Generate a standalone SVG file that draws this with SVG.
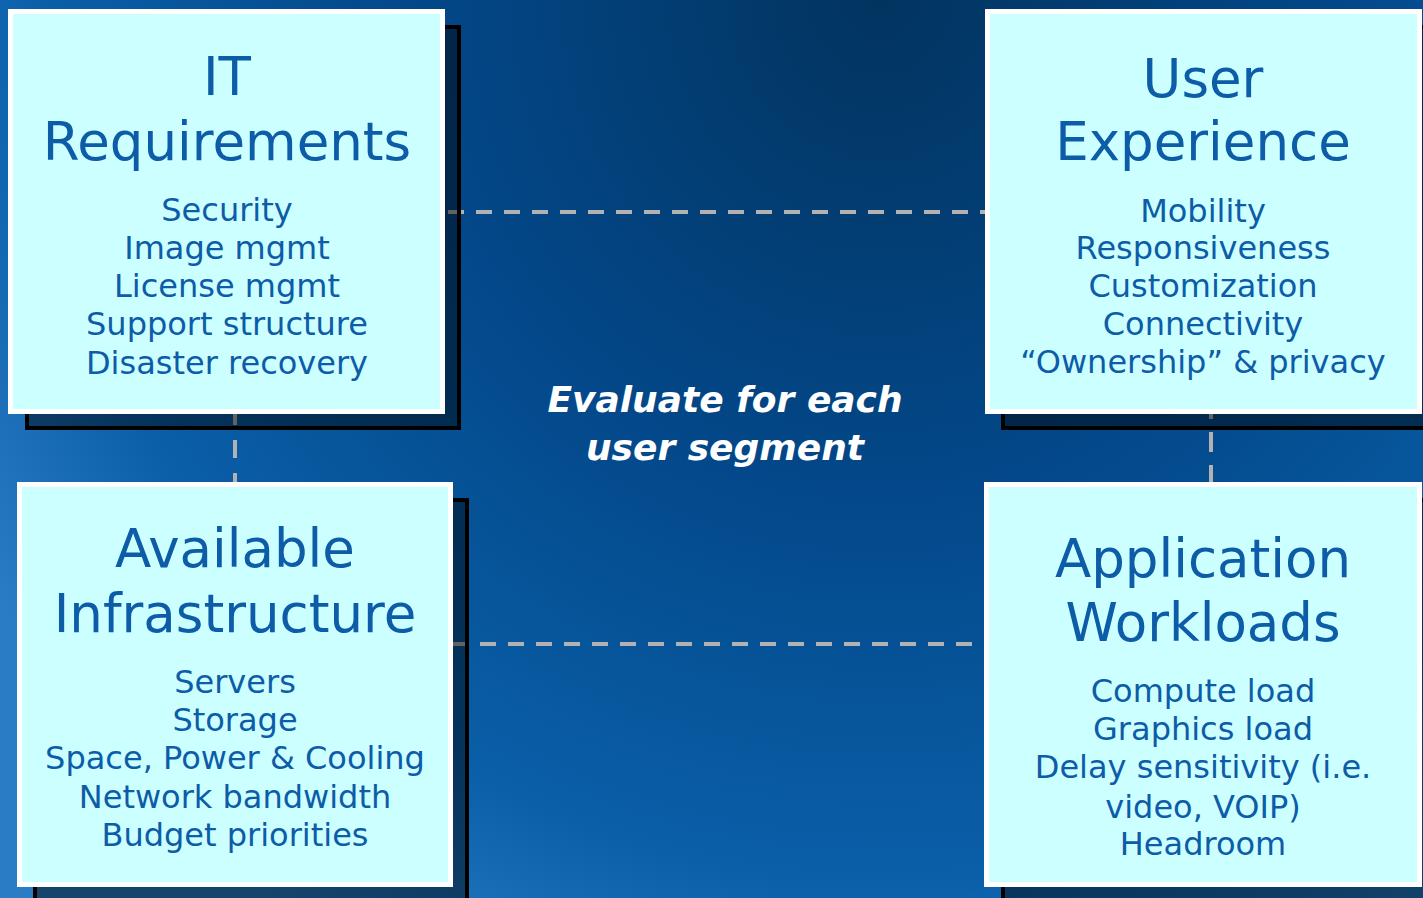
<svg xmlns="http://www.w3.org/2000/svg" width="1423" height="898" viewBox="0 0 1423 898">
<defs>
<radialGradient id="bg" gradientUnits="userSpaceOnUse" cx="880" cy="0" r="1000" gradientTransform="translate(880 0) scale(1.05 1.1) translate(-880 0)">
<stop offset="0" stop-color="#02345f"/>
<stop offset="0.45" stop-color="#03488a"/>
<stop offset="0.8" stop-color="#0a5fa8"/>
<stop offset="1" stop-color="#2a7cc4"/>
</radialGradient>
<style>
.shadow{fill:#000;fill-opacity:0.45;stroke:#000;stroke-width:4}
.box{fill:#ccffff;stroke:#ffffff;stroke-width:5}
.title{font-family:"DejaVu Sans",Verdana,sans-serif;font-size:53px;fill:#0d5ca8;text-anchor:middle}
.body{font-family:"DejaVu Sans",Verdana,sans-serif;font-size:32px;fill:#0d5ca8;text-anchor:middle}
.center{font-family:"DejaVu Sans",Verdana,sans-serif;font-size:36px;font-weight:bold;font-style:italic;fill:#ffffff;text-anchor:middle}
.dash{stroke:#b2b2b2;stroke-width:4;fill:none}
</style>
</defs>
<rect x="0" y="0" width="1423" height="898" fill="url(#bg)"/>
<g id="connectors">
<line class="dash" x1="448" y1="212" x2="988" y2="212" stroke-dasharray="16 12"/>
<line class="dash" x1="452" y1="644" x2="988" y2="644" stroke-dasharray="16 12"/>
<line class="dash" x1="235" y1="407" x2="235" y2="484" stroke-dasharray="18 15"/>
<line class="dash" x1="1211" y1="399" x2="1211" y2="484" stroke-dasharray="20 13"/>
</g>
<g id="shadows">
<rect class="shadow" x="27" y="27" width="432" height="401"/>
<rect class="shadow" x="1003" y="27" width="432" height="401"/>
<rect class="shadow" x="35" y="500" width="432" height="401"/>
<rect class="shadow" x="1003" y="500" width="432" height="401"/>
</g>
<g id="it-requirements">
<rect class="box" x="10.5" y="11.5" width="432" height="400"/>
<text class="title" x="227" y="95">IT</text>
<text class="title" x="227" y="160">Requirements</text>
<text class="body" x="227" y="221">Security</text>
<text class="body" x="227" y="259">Image mgmt</text>
<text class="body" x="227" y="297">License mgmt</text>
<text class="body" x="227" y="335">Support structure</text>
<text class="body" x="227" y="374">Disaster recovery</text>
</g>
<g id="user-experience">
<rect class="box" x="987.5" y="11.5" width="432" height="400"/>
<text class="title" x="1203" y="97">User</text>
<text class="title" x="1203" y="160">Experience</text>
<text class="body" x="1203" y="222">Mobility</text>
<text class="body" x="1203" y="259">Responsiveness</text>
<text class="body" x="1203" y="297">Customization</text>
<text class="body" x="1203" y="335">Connectivity</text>
<text class="body" x="1203" y="373">“Ownership” &amp; privacy</text>
</g>
<g id="available-infrastructure">
<rect class="box" x="19.5" y="484.5" width="431" height="400"/>
<text class="title" x="235" y="567">Available</text>
<text class="title" x="235" y="632">Infrastructure</text>
<text class="body" x="235" y="693">Servers</text>
<text class="body" x="235" y="731">Storage</text>
<text class="body" x="235" y="769">Space, Power &amp; Cooling</text>
<text class="body" x="235" y="808">Network bandwidth</text>
<text class="body" x="235" y="846">Budget priorities</text>
</g>
<g id="application-workloads">
<rect class="box" x="986.5" y="484.5" width="433" height="400"/>
<text class="title" x="1203" y="577">Application</text>
<text class="title" x="1203" y="641">Workloads</text>
<text class="body" x="1203" y="702">Compute load</text>
<text class="body" x="1203" y="740">Graphics load</text>
<text class="body" x="1203" y="778">Delay sensitivity (i.e.</text>
<text class="body" x="1203" y="818">video, VOIP)</text>
<text class="body" x="1203" y="855">Headroom</text>
</g>
<g id="center-label">
<text class="center" x="725" y="412">Evaluate for each</text>
<text class="center" x="725" y="460">user segment</text>
</g>
</svg>
